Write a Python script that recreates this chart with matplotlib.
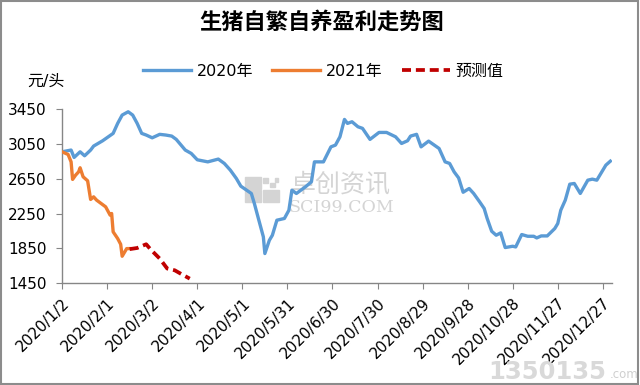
import matplotlib

matplotlib.use("Agg")
import matplotlib.pyplot as plt
from matplotlib.patches import Rectangle

plt.rcParams["font.family"] = ["DejaVu Sans", "Noto Sans CJK SC"]

# day offsets counted from 2020/1/2, values in 元/头
days_2020 = [0, 6, 8, 12, 15, 19, 21, 27, 34, 37, 40, 44, 47, 50, 53, 56, 60, 65,
             69, 73, 76, 82, 86, 90, 97, 104, 108, 112, 116, 119, 126, 128, 131,
             134, 135, 138, 140, 143, 148, 151, 153, 156, 162, 166, 168, 174, 179,
             182, 185, 188, 190, 193, 197, 200, 205, 211, 216, 222, 226, 230, 232,
             236, 239, 244, 251, 255, 258, 261, 264, 267, 271, 274, 278, 281, 283,
             286, 289, 292, 295, 300, 302, 306, 310, 314, 316, 319, 323, 328, 330,
             332, 335, 338, 341, 345, 350, 353, 356, 362, 365]
profit_2020 = [2961, 2981, 2896, 2961, 2915, 2981, 3027, 3088, 3173, 3288, 3384,
               3422, 3384, 3288, 3173, 3154, 3122, 3162, 3154, 3142, 3104, 2981,
               2942, 2869, 2845, 2877, 2827, 2750, 2654, 2565, 2481, 2366, 2173,
               1981, 1789, 1942, 2000, 2173, 2193, 2288, 2519, 2481, 2557, 2615,
               2845, 2845, 3018, 3038, 3134, 3334, 3288, 3307, 3249, 3231, 3104,
               3184, 3184, 3134, 3057, 3088, 3142, 3162, 3018, 3084, 2999, 2845,
               2827, 2730, 2660, 2495, 2538, 2481, 2384, 2308, 2193, 2046, 2000,
               2027, 1858, 1873, 1865, 2008, 1988, 1988, 1969, 1992, 1992, 2077,
               2135, 2288, 2404, 2588, 2596, 2481, 2634, 2646, 2634, 2807, 2853]

days_2021 = [0, 4, 6, 7, 9, 11, 12, 14, 17, 19, 21, 23, 29, 32, 33, 34, 37, 39,
             40, 43, 45]
profit_2021 = [2961, 2930, 2845, 2643, 2692, 2730, 2777, 2673, 2627, 2412, 2442,
               2404, 2327, 2231, 2250, 2039, 1962, 1896, 1758, 1846, 1846]

days_fc = [45, 50, 56, 59, 65, 70, 75, 80, 85]
profit_fc = [1840, 1853, 1896, 1835, 1731, 1616, 1596, 1547, 1500]

tick_days = [0, 30, 60, 90, 120, 150, 180, 210, 240, 270, 300, 330, 360]
tick_labels = ["2020/1/2", "2020/2/1", "2020/3/2", "2020/4/1", "2020/5/1",
               "2020/5/31", "2020/6/30", "2020/7/30", "2020/8/29", "2020/9/28",
               "2020/10/28", "2020/11/27", "2020/12/27"]
y_ticks = [1450, 1850, 2250, 2650, 3050, 3450]

fig = plt.figure(figsize=(6.4, 3.85), dpi=100)
ax = fig.add_axes([0.097, 0.265, 0.859, 0.451])

ax.plot(days_2020, profit_2020, color="#5B9BD5", lw=2.4, label="2020年",
        solid_joinstyle="round", zorder=3)
ax.plot(days_2021, profit_2021, color="#ED7D31", lw=2.4, label="2021年",
        solid_joinstyle="round", zorder=3)
ax.plot(days_fc, profit_fc, color="#C00000", lw=2.7, linestyle=(0, (2.4, 1.3)),
        label="预测值", zorder=3)

ax.set_xlim(0, 366)
ax.set_ylim(1450, 3450)
ax.set_xticks(tick_days)
ax.set_xticklabels(tick_labels, rotation=45, ha="right", rotation_mode="anchor",
                   fontsize=11)
ax.set_yticks(y_ticks)
ax.tick_params(axis="y", labelsize=11, length=4, color="#868686", pad=7)
ax.tick_params(axis="x", length=4, color="#868686", pad=5)
for side in ("top", "right"):
    ax.spines[side].set_visible(False)
for side in ("left", "bottom"):
    ax.spines[side].set_color("#868686")
    ax.spines[side].set_linewidth(1.0)

fig.text(0.502, 0.943, "生猪自繁自养盈利走势图", ha="center", va="center",
         fontsize=16, fontweight="bold", family=["Noto Sans CJK SC"])
fig.text(0.072, 0.79, "元/头", ha="center", va="center", fontsize=11.5,
         family=["DejaVu Sans", "Noto Sans CJK SC"])

fig.legend(loc="center", bbox_to_anchor=(0.505, 0.815), ncol=3, frameon=False,
           fontsize=11.5, handlelength=3.0, handletextpad=0.35, columnspacing=1.2)

# watermark behind the lines
wm = "#d4d4d4"
for (x0, y0, w, h) in [(0.383, 0.510, 0.025, 0.030), (0.383, 0.475, 0.025, 0.031),
                       (0.411, 0.475, 0.025, 0.031), (0.411, 0.525, 0.007, 0.012),
                       (0.422, 0.513, 0.007, 0.012), (0.429, 0.528, 0.006, 0.010)]:
    ax.add_patch(Rectangle((x0, y0), w, h, transform=fig.transFigure, color=wm,
                           zorder=1, clip_on=False))
ax.text(0.533, 0.522, "卓创资讯", transform=fig.transFigure, ha="center",
        va="center", fontsize=18, color=wm, family=["Noto Sans CJK SC"], zorder=1)
ax.text(0.533, 0.46, "SCI99.COM", transform=fig.transFigure, ha="center",
        va="center", fontsize=12.5, color=wm, family=["DejaVu Serif"], zorder=1)

fig.text(0.948, 0.035, "1350135", ha="right", va="center", fontsize=17.5,
         fontweight="bold", color="#d9d9d9")
fig.text(0.952, 0.028, ".com", ha="left", va="center", fontsize=8.5,
         color="#cfcfcf")

fig.patches.append(Rectangle((0.002, 0.003), 0.995, 0.994, transform=fig.transFigure,
                             fill=False, edgecolor="#8c8c8c", lw=1.5))

fig.savefig("out.png", dpi=100)
